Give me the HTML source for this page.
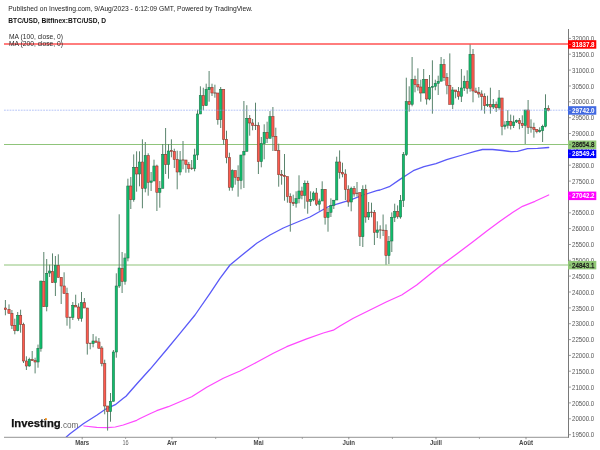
<!DOCTYPE html>
<html><head><meta charset="utf-8"><title>BTC/USD</title>
<style>html,body{margin:0;padding:0;background:#fff;}body{width:600px;height:450px;overflow:hidden;font-family:"Liberation Sans",sans-serif;}svg{display:block;will-change:transform;}text{font-family:"Liberation Sans",sans-serif;}</style>
</head><body>
<svg width="600" height="450" viewBox="0 0 600 450">
<rect x="0" y="0" width="600" height="450" fill="#ffffff"/>
<defs><clipPath id="plot"><rect x="4" y="29" width="564" height="408"/></clipPath></defs>
<g clip-path="url(#plot)">
<line x1="4" x2="568" y1="144.5" y2="144.5" stroke="#8fc47a" stroke-width="1.2"/>
<line x1="4" x2="568" y1="265" y2="265" stroke="#8fc47a" stroke-width="1.2"/>
<polyline points="66.3,437.0 70.0,433.7 83.3,423.7 96.7,415.2 104.7,409.7 115.3,404.7 123.3,398.3 126.0,396.3 136.7,384.0 150.0,369.3 166.7,349.5 180.0,333.3 195.0,315.0 210.0,293.3 220.0,278.3 230.0,265.0 240.0,256.7 256.7,243.3 270.0,235.0 283.3,228.0 290.4,225.0 300.0,221.0 310.0,217.0 323.3,209.5 328.7,206.5 339.3,203.3 350.0,200.2 363.3,195.0 376.7,190.7 380.0,190.0 389.3,186.7 400.0,179.4 406.7,175.0 413.3,170.7 424.0,166.7 436.0,163.7 446.7,159.7 450.0,158.7 462.5,155.0 475.0,151.3 482.5,149.5 492.5,149.5 502.5,150.5 511.3,151.7 517.5,151.3 527.5,148.7 537.5,148.3 548.7,147.5" fill="none" stroke="#5a5af8" stroke-width="1.3" stroke-linejoin="round" stroke-linecap="round"/>
<polyline points="84.0,426.0 96.7,427.4 107.3,427.7 115.3,427.0 123.3,425.0 136.7,420.3 140.0,418.5 150.0,413.8 156.7,410.7 168.3,406.7 191.7,396.7 206.7,387.3 223.3,378.3 240.0,371.0 256.7,362.3 273.3,353.3 286.7,346.7 306.7,338.8 323.3,333.0 333.3,330.2 340.0,326.0 353.3,318.3 370.0,310.0 386.7,301.7 401.7,295.0 416.7,285.0 430.0,274.3 441.7,265.0 456.7,254.0 473.3,241.5 487.5,230.5 500.0,221.3 512.5,212.5 522.5,206.3 535.0,201.3 548.7,195.0" fill="none" stroke="#ff48ff" stroke-width="1.25" stroke-linejoin="round" stroke-linecap="round"/>
<line x1="5.40" x2="5.40" y1="300.0" y2="315.3" stroke="#5a846d" stroke-width="1"/>
<rect x="4.25" y="308.0" width="2.3" height="1.7" fill="#ff5a4e" stroke="#7d3a30" stroke-width="0.55"/>
<line x1="9.00" x2="9.00" y1="304.4" y2="313.3" stroke="#5a846d" stroke-width="1"/>
<rect x="7.85" y="309.3" width="2.3" height="4.0" fill="#ff5a4e" stroke="#7d3a30" stroke-width="0.55"/>
<line x1="11.90" x2="11.90" y1="310.0" y2="329.0" stroke="#5a846d" stroke-width="1"/>
<rect x="10.75" y="313.3" width="2.3" height="12.4" fill="#ff5a4e" stroke="#7d3a30" stroke-width="0.55"/>
<line x1="14.80" x2="14.80" y1="318.7" y2="334.3" stroke="#5a846d" stroke-width="1"/>
<rect x="13.65" y="325.3" width="2.3" height="5.4" fill="#ff5a4e" stroke="#7d3a30" stroke-width="0.55"/>
<line x1="17.70" x2="17.70" y1="312.0" y2="331.3" stroke="#5a846d" stroke-width="1"/>
<rect x="16.55" y="315.3" width="2.3" height="15.4" fill="#0fbd6c" stroke="#1f6e47" stroke-width="0.55"/>
<line x1="20.60" x2="20.60" y1="309.7" y2="332.7" stroke="#5a846d" stroke-width="1"/>
<rect x="19.45" y="315.3" width="2.3" height="9.1" fill="#ff5a4e" stroke="#7d3a30" stroke-width="0.55"/>
<line x1="23.50" x2="23.50" y1="322.7" y2="363.0" stroke="#5a846d" stroke-width="1"/>
<rect x="22.35" y="324.4" width="2.3" height="36.6" fill="#ff5a4e" stroke="#7d3a30" stroke-width="0.55"/>
<line x1="26.40" x2="26.40" y1="356.3" y2="370.0" stroke="#5a846d" stroke-width="1"/>
<rect x="25.25" y="361.0" width="2.3" height="5.0" fill="#ff5a4e" stroke="#7d3a30" stroke-width="0.55"/>
<line x1="29.30" x2="29.30" y1="357.7" y2="366.7" stroke="#5a846d" stroke-width="1"/>
<rect x="28.15" y="359.4" width="2.3" height="6.6" fill="#0fbd6c" stroke="#1f6e47" stroke-width="0.55"/>
<line x1="32.20" x2="32.20" y1="351.0" y2="361.0" stroke="#5a846d" stroke-width="1"/>
<rect x="31.05" y="359.4" width="2.3" height="1.2" fill="#ff5a4e" stroke="#7d3a30" stroke-width="0.55"/>
<line x1="35.10" x2="35.10" y1="357.7" y2="373.4" stroke="#5a846d" stroke-width="1"/>
<rect x="33.95" y="360.6" width="2.3" height="1.4" fill="#ff5a4e" stroke="#7d3a30" stroke-width="0.55"/>
<line x1="38.00" x2="38.00" y1="344.6" y2="367.7" stroke="#5a846d" stroke-width="1"/>
<rect x="36.85" y="348.3" width="2.3" height="13.7" fill="#0fbd6c" stroke="#1f6e47" stroke-width="0.55"/>
<line x1="40.90" x2="40.90" y1="281.0" y2="351.7" stroke="#5a846d" stroke-width="1"/>
<rect x="39.75" y="281.0" width="2.3" height="67.5" fill="#0fbd6c" stroke="#1f6e47" stroke-width="0.55"/>
<line x1="43.80" x2="43.80" y1="252.0" y2="306.7" stroke="#5a846d" stroke-width="1"/>
<rect x="42.65" y="281.4" width="2.3" height="25.3" fill="#ff5a4e" stroke="#7d3a30" stroke-width="0.55"/>
<line x1="46.70" x2="46.70" y1="259.0" y2="311.3" stroke="#5a846d" stroke-width="1"/>
<rect x="45.55" y="273.3" width="2.3" height="33.4" fill="#0fbd6c" stroke="#1f6e47" stroke-width="0.55"/>
<line x1="49.60" x2="49.60" y1="264.6" y2="277.0" stroke="#5a846d" stroke-width="1"/>
<rect x="48.45" y="271.0" width="2.3" height="2.0" fill="#0fbd6c" stroke="#1f6e47" stroke-width="0.55"/>
<line x1="52.50" x2="52.50" y1="253.4" y2="282.7" stroke="#5a846d" stroke-width="1"/>
<rect x="51.35" y="271.3" width="2.3" height="11.4" fill="#ff5a4e" stroke="#7d3a30" stroke-width="0.55"/>
<line x1="55.40" x2="55.40" y1="256.0" y2="296.0" stroke="#5a846d" stroke-width="1"/>
<rect x="54.25" y="265.4" width="2.3" height="17.3" fill="#0fbd6c" stroke="#1f6e47" stroke-width="0.55"/>
<line x1="58.30" x2="58.30" y1="254.3" y2="277.4" stroke="#5a846d" stroke-width="1"/>
<rect x="57.15" y="265.4" width="2.3" height="12.0" fill="#ff5a4e" stroke="#7d3a30" stroke-width="0.55"/>
<line x1="61.20" x2="61.20" y1="277.4" y2="304.0" stroke="#5a846d" stroke-width="1"/>
<rect x="60.05" y="277.4" width="2.3" height="8.6" fill="#ff5a4e" stroke="#7d3a30" stroke-width="0.55"/>
<line x1="64.10" x2="64.10" y1="272.3" y2="293.5" stroke="#5a846d" stroke-width="1"/>
<rect x="62.95" y="286.0" width="2.3" height="7.5" fill="#ff5a4e" stroke="#7d3a30" stroke-width="0.55"/>
<line x1="67.00" x2="67.00" y1="287.7" y2="325.7" stroke="#5a846d" stroke-width="1"/>
<rect x="65.85" y="293.3" width="2.3" height="24.0" fill="#ff5a4e" stroke="#7d3a30" stroke-width="0.55"/>
<line x1="69.90" x2="69.90" y1="317.0" y2="328.7" stroke="#5a846d" stroke-width="1"/>
<line x1="68.50" x2="71.30" y1="317.3" y2="317.3" stroke="#7d3a30" stroke-width="0.9"/>
<line x1="72.80" x2="72.80" y1="302.0" y2="320.0" stroke="#5a846d" stroke-width="1"/>
<rect x="71.65" y="305.3" width="2.3" height="12.0" fill="#0fbd6c" stroke="#1f6e47" stroke-width="0.55"/>
<line x1="75.70" x2="75.70" y1="294.7" y2="307.0" stroke="#5a846d" stroke-width="1"/>
<rect x="74.55" y="305.3" width="2.3" height="1.7" fill="#ff5a4e" stroke="#7d3a30" stroke-width="0.55"/>
<line x1="78.60" x2="78.60" y1="303.3" y2="320.7" stroke="#5a846d" stroke-width="1"/>
<rect x="77.45" y="307.0" width="2.3" height="11.3" fill="#ff5a4e" stroke="#7d3a30" stroke-width="0.55"/>
<line x1="81.50" x2="81.50" y1="292.0" y2="321.7" stroke="#5a846d" stroke-width="1"/>
<rect x="80.35" y="302.7" width="2.3" height="15.7" fill="#0fbd6c" stroke="#1f6e47" stroke-width="0.55"/>
<line x1="84.40" x2="84.40" y1="298.0" y2="308.0" stroke="#5a846d" stroke-width="1"/>
<rect x="83.25" y="302.7" width="2.3" height="5.3" fill="#ff5a4e" stroke="#7d3a30" stroke-width="0.55"/>
<line x1="87.30" x2="87.30" y1="308.0" y2="354.6" stroke="#5a846d" stroke-width="1"/>
<rect x="86.15" y="308.0" width="2.3" height="35.3" fill="#ff5a4e" stroke="#7d3a30" stroke-width="0.55"/>
<line x1="90.20" x2="90.20" y1="343.3" y2="349.3" stroke="#5a846d" stroke-width="1"/>
<line x1="88.80" x2="91.60" y1="343.3" y2="343.3" stroke="#7d3a30" stroke-width="0.9"/>
<line x1="93.10" x2="93.10" y1="334.0" y2="347.3" stroke="#5a846d" stroke-width="1"/>
<rect x="91.95" y="341.0" width="2.3" height="2.6" fill="#0fbd6c" stroke="#1f6e47" stroke-width="0.55"/>
<line x1="96.00" x2="96.00" y1="336.4" y2="342.3" stroke="#5a846d" stroke-width="1"/>
<rect x="94.85" y="341.0" width="2.3" height="1.3" fill="#ff5a4e" stroke="#7d3a30" stroke-width="0.55"/>
<line x1="98.90" x2="98.90" y1="338.0" y2="348.3" stroke="#5a846d" stroke-width="1"/>
<rect x="97.75" y="342.0" width="2.3" height="6.3" fill="#ff5a4e" stroke="#7d3a30" stroke-width="0.55"/>
<line x1="101.80" x2="101.80" y1="346.0" y2="366.3" stroke="#5a846d" stroke-width="1"/>
<rect x="100.65" y="348.0" width="2.3" height="15.4" fill="#ff5a4e" stroke="#7d3a30" stroke-width="0.55"/>
<line x1="104.70" x2="104.70" y1="359.7" y2="414.3" stroke="#5a846d" stroke-width="1"/>
<rect x="103.55" y="363.7" width="2.3" height="42.3" fill="#ff5a4e" stroke="#7d3a30" stroke-width="0.55"/>
<line x1="107.60" x2="107.60" y1="406.0" y2="430.6" stroke="#5a846d" stroke-width="1"/>
<rect x="106.45" y="406.0" width="2.3" height="5.7" fill="#ff5a4e" stroke="#7d3a30" stroke-width="0.55"/>
<line x1="110.50" x2="110.50" y1="393.0" y2="421.7" stroke="#5a846d" stroke-width="1"/>
<rect x="109.35" y="401.3" width="2.3" height="10.4" fill="#0fbd6c" stroke="#1f6e47" stroke-width="0.55"/>
<line x1="113.40" x2="113.40" y1="350.0" y2="401.3" stroke="#5a846d" stroke-width="1"/>
<rect x="112.25" y="352.0" width="2.3" height="49.3" fill="#0fbd6c" stroke="#1f6e47" stroke-width="0.55"/>
<line x1="116.30" x2="116.30" y1="273.3" y2="357.7" stroke="#5a846d" stroke-width="1"/>
<rect x="115.15" y="286.0" width="2.3" height="66.0" fill="#0fbd6c" stroke="#1f6e47" stroke-width="0.55"/>
<line x1="119.20" x2="119.20" y1="214.3" y2="288.0" stroke="#5a846d" stroke-width="1"/>
<rect x="118.05" y="268.0" width="2.3" height="18.0" fill="#0fbd6c" stroke="#1f6e47" stroke-width="0.55"/>
<line x1="122.10" x2="122.10" y1="252.0" y2="293.0" stroke="#5a846d" stroke-width="1"/>
<rect x="120.95" y="268.3" width="2.3" height="13.0" fill="#ff5a4e" stroke="#7d3a30" stroke-width="0.55"/>
<line x1="125.00" x2="125.00" y1="253.3" y2="284.7" stroke="#5a846d" stroke-width="1"/>
<rect x="123.85" y="258.0" width="2.3" height="23.3" fill="#0fbd6c" stroke="#1f6e47" stroke-width="0.55"/>
<line x1="127.90" x2="127.90" y1="178.7" y2="261.3" stroke="#5a846d" stroke-width="1"/>
<rect x="126.75" y="186.0" width="2.3" height="72.0" fill="#0fbd6c" stroke="#1f6e47" stroke-width="0.55"/>
<line x1="130.80" x2="130.80" y1="177.0" y2="209.0" stroke="#5a846d" stroke-width="1"/>
<rect x="129.65" y="186.0" width="2.3" height="13.7" fill="#ff5a4e" stroke="#7d3a30" stroke-width="0.55"/>
<line x1="133.70" x2="133.70" y1="154.4" y2="201.7" stroke="#5a846d" stroke-width="1"/>
<rect x="132.55" y="167.3" width="2.3" height="32.4" fill="#0fbd6c" stroke="#1f6e47" stroke-width="0.55"/>
<line x1="136.60" x2="136.60" y1="151.3" y2="191.7" stroke="#5a846d" stroke-width="1"/>
<rect x="135.45" y="167.3" width="2.3" height="6.7" fill="#ff5a4e" stroke="#7d3a30" stroke-width="0.55"/>
<line x1="139.50" x2="139.50" y1="151.3" y2="186.3" stroke="#5a846d" stroke-width="1"/>
<rect x="138.35" y="162.0" width="2.3" height="12.0" fill="#0fbd6c" stroke="#1f6e47" stroke-width="0.55"/>
<line x1="142.40" x2="142.40" y1="139.3" y2="208.3" stroke="#5a846d" stroke-width="1"/>
<rect x="141.25" y="162.0" width="2.3" height="26.3" fill="#ff5a4e" stroke="#7d3a30" stroke-width="0.55"/>
<line x1="145.30" x2="145.30" y1="142.0" y2="192.3" stroke="#5a846d" stroke-width="1"/>
<rect x="144.15" y="155.7" width="2.3" height="32.6" fill="#0fbd6c" stroke="#1f6e47" stroke-width="0.55"/>
<line x1="148.20" x2="148.20" y1="153.3" y2="195.7" stroke="#5a846d" stroke-width="1"/>
<rect x="147.05" y="155.7" width="2.3" height="26.6" fill="#ff5a4e" stroke="#7d3a30" stroke-width="0.55"/>
<line x1="151.10" x2="151.10" y1="172.0" y2="191.0" stroke="#5a846d" stroke-width="1"/>
<rect x="149.95" y="181.0" width="2.3" height="1.3" fill="#0fbd6c" stroke="#1f6e47" stroke-width="0.55"/>
<line x1="154.00" x2="154.00" y1="159.7" y2="181.0" stroke="#5a846d" stroke-width="1"/>
<rect x="152.85" y="166.0" width="2.3" height="15.0" fill="#0fbd6c" stroke="#1f6e47" stroke-width="0.55"/>
<line x1="156.90" x2="156.90" y1="164.7" y2="211.0" stroke="#5a846d" stroke-width="1"/>
<rect x="155.75" y="166.0" width="2.3" height="26.3" fill="#ff5a4e" stroke="#7d3a30" stroke-width="0.55"/>
<line x1="159.80" x2="159.80" y1="181.0" y2="207.7" stroke="#5a846d" stroke-width="1"/>
<rect x="158.65" y="188.3" width="2.3" height="4.0" fill="#0fbd6c" stroke="#1f6e47" stroke-width="0.55"/>
<line x1="162.70" x2="162.70" y1="144.0" y2="188.3" stroke="#5a846d" stroke-width="1"/>
<rect x="161.55" y="154.3" width="2.3" height="34.0" fill="#0fbd6c" stroke="#1f6e47" stroke-width="0.55"/>
<line x1="165.60" x2="165.60" y1="128.0" y2="174.0" stroke="#5a846d" stroke-width="1"/>
<rect x="164.45" y="154.3" width="2.3" height="10.4" fill="#ff5a4e" stroke="#7d3a30" stroke-width="0.55"/>
<line x1="168.50" x2="168.50" y1="144.0" y2="178.7" stroke="#5a846d" stroke-width="1"/>
<rect x="167.35" y="151.0" width="2.3" height="13.7" fill="#0fbd6c" stroke="#1f6e47" stroke-width="0.55"/>
<line x1="171.40" x2="171.40" y1="139.3" y2="157.3" stroke="#5a846d" stroke-width="1"/>
<rect x="170.25" y="150.7" width="2.3" height="0.9" fill="#ff5a4e" stroke="#7d3a30" stroke-width="0.55"/>
<line x1="174.30" x2="174.30" y1="148.7" y2="168.0" stroke="#5a846d" stroke-width="1"/>
<rect x="173.15" y="151.3" width="2.3" height="8.2" fill="#ff5a4e" stroke="#7d3a30" stroke-width="0.55"/>
<line x1="177.20" x2="177.20" y1="150.7" y2="189.3" stroke="#5a846d" stroke-width="1"/>
<rect x="176.05" y="159.5" width="2.3" height="12.5" fill="#ff5a4e" stroke="#7d3a30" stroke-width="0.55"/>
<line x1="180.10" x2="180.10" y1="151.0" y2="175.3" stroke="#5a846d" stroke-width="1"/>
<rect x="178.95" y="160.0" width="2.3" height="12.0" fill="#0fbd6c" stroke="#1f6e47" stroke-width="0.55"/>
<line x1="183.00" x2="183.00" y1="141.0" y2="169.3" stroke="#5a846d" stroke-width="1"/>
<line x1="181.60" x2="184.40" y1="160.0" y2="160.0" stroke="#7d3a30" stroke-width="0.9"/>
<line x1="185.90" x2="185.90" y1="160.0" y2="172.7" stroke="#5a846d" stroke-width="1"/>
<rect x="184.75" y="160.0" width="2.3" height="4.7" fill="#ff5a4e" stroke="#7d3a30" stroke-width="0.55"/>
<line x1="188.80" x2="188.80" y1="162.0" y2="172.7" stroke="#5a846d" stroke-width="1"/>
<rect x="187.65" y="164.7" width="2.3" height="4.0" fill="#ff5a4e" stroke="#7d3a30" stroke-width="0.55"/>
<line x1="191.70" x2="191.70" y1="160.0" y2="170.0" stroke="#5a846d" stroke-width="1"/>
<line x1="190.30" x2="193.10" y1="168.3" y2="168.3" stroke="#7d3a30" stroke-width="0.9"/>
<line x1="194.60" x2="194.60" y1="148.7" y2="171.3" stroke="#5a846d" stroke-width="1"/>
<rect x="193.45" y="155.0" width="2.3" height="13.7" fill="#0fbd6c" stroke="#1f6e47" stroke-width="0.55"/>
<line x1="197.50" x2="197.50" y1="109.7" y2="160.0" stroke="#5a846d" stroke-width="1"/>
<rect x="196.35" y="114.0" width="2.3" height="41.0" fill="#0fbd6c" stroke="#1f6e47" stroke-width="0.55"/>
<line x1="200.40" x2="200.40" y1="86.3" y2="114.0" stroke="#5a846d" stroke-width="1"/>
<rect x="199.25" y="95.7" width="2.3" height="18.3" fill="#0fbd6c" stroke="#1f6e47" stroke-width="0.55"/>
<line x1="203.30" x2="203.30" y1="87.7" y2="110.3" stroke="#5a846d" stroke-width="1"/>
<rect x="202.15" y="95.7" width="2.3" height="10.0" fill="#ff5a4e" stroke="#7d3a30" stroke-width="0.55"/>
<line x1="206.20" x2="206.20" y1="83.7" y2="105.7" stroke="#5a846d" stroke-width="1"/>
<rect x="205.05" y="89.4" width="2.3" height="16.3" fill="#0fbd6c" stroke="#1f6e47" stroke-width="0.55"/>
<line x1="209.10" x2="209.10" y1="71.0" y2="101.7" stroke="#5a846d" stroke-width="1"/>
<rect x="207.95" y="87.4" width="2.3" height="2.3" fill="#0fbd6c" stroke="#1f6e47" stroke-width="0.55"/>
<line x1="212.00" x2="212.00" y1="83.7" y2="96.0" stroke="#5a846d" stroke-width="1"/>
<rect x="210.85" y="87.4" width="2.3" height="5.6" fill="#ff5a4e" stroke="#7d3a30" stroke-width="0.55"/>
<line x1="214.90" x2="214.90" y1="84.7" y2="97.7" stroke="#5a846d" stroke-width="1"/>
<line x1="213.50" x2="216.30" y1="93.0" y2="93.0" stroke="#7d3a30" stroke-width="0.9"/>
<line x1="217.80" x2="217.80" y1="93.0" y2="124.7" stroke="#5a846d" stroke-width="1"/>
<rect x="216.65" y="93.0" width="2.3" height="26.7" fill="#ff5a4e" stroke="#7d3a30" stroke-width="0.55"/>
<line x1="220.70" x2="220.70" y1="87.0" y2="128.0" stroke="#5a846d" stroke-width="1"/>
<rect x="219.55" y="89.4" width="2.3" height="30.3" fill="#0fbd6c" stroke="#1f6e47" stroke-width="0.55"/>
<line x1="223.60" x2="223.60" y1="89.4" y2="144.7" stroke="#5a846d" stroke-width="1"/>
<rect x="222.45" y="89.4" width="2.3" height="49.9" fill="#ff5a4e" stroke="#7d3a30" stroke-width="0.55"/>
<line x1="226.50" x2="226.50" y1="130.7" y2="163.3" stroke="#5a846d" stroke-width="1"/>
<rect x="225.35" y="139.3" width="2.3" height="18.3" fill="#ff5a4e" stroke="#7d3a30" stroke-width="0.55"/>
<line x1="229.40" x2="229.40" y1="152.7" y2="190.7" stroke="#5a846d" stroke-width="1"/>
<rect x="228.25" y="157.6" width="2.3" height="29.7" fill="#ff5a4e" stroke="#7d3a30" stroke-width="0.55"/>
<line x1="232.30" x2="232.30" y1="169.3" y2="190.7" stroke="#5a846d" stroke-width="1"/>
<rect x="231.15" y="170.7" width="2.3" height="16.6" fill="#0fbd6c" stroke="#1f6e47" stroke-width="0.55"/>
<line x1="235.20" x2="235.20" y1="170.7" y2="184.7" stroke="#5a846d" stroke-width="1"/>
<rect x="234.05" y="170.7" width="2.3" height="6.6" fill="#ff5a4e" stroke="#7d3a30" stroke-width="0.55"/>
<line x1="238.10" x2="238.10" y1="165.3" y2="196.7" stroke="#5a846d" stroke-width="1"/>
<rect x="236.95" y="177.3" width="2.3" height="3.1" fill="#ff5a4e" stroke="#7d3a30" stroke-width="0.55"/>
<line x1="241.00" x2="241.00" y1="155.0" y2="189.3" stroke="#5a846d" stroke-width="1"/>
<rect x="239.85" y="155.0" width="2.3" height="25.5" fill="#0fbd6c" stroke="#1f6e47" stroke-width="0.55"/>
<line x1="243.90" x2="243.90" y1="101.0" y2="188.0" stroke="#5a846d" stroke-width="1"/>
<rect x="242.75" y="151.3" width="2.3" height="3.7" fill="#0fbd6c" stroke="#1f6e47" stroke-width="0.55"/>
<line x1="246.80" x2="246.80" y1="105.2" y2="151.3" stroke="#5a846d" stroke-width="1"/>
<rect x="245.65" y="118.3" width="2.3" height="33.0" fill="#0fbd6c" stroke="#1f6e47" stroke-width="0.55"/>
<line x1="249.70" x2="249.70" y1="115.0" y2="135.7" stroke="#5a846d" stroke-width="1"/>
<rect x="248.55" y="118.3" width="2.3" height="4.7" fill="#ff5a4e" stroke="#7d3a30" stroke-width="0.55"/>
<line x1="252.60" x2="252.60" y1="119.0" y2="130.3" stroke="#5a846d" stroke-width="1"/>
<rect x="251.45" y="123.0" width="2.3" height="2.4" fill="#ff5a4e" stroke="#7d3a30" stroke-width="0.55"/>
<line x1="255.50" x2="255.50" y1="102.7" y2="130.0" stroke="#5a846d" stroke-width="1"/>
<line x1="254.10" x2="256.90" y1="125.4" y2="125.4" stroke="#7d3a30" stroke-width="0.9"/>
<line x1="258.40" x2="258.40" y1="122.3" y2="174.0" stroke="#5a846d" stroke-width="1"/>
<rect x="257.25" y="125.7" width="2.3" height="36.0" fill="#ff5a4e" stroke="#7d3a30" stroke-width="0.55"/>
<line x1="261.30" x2="261.30" y1="137.0" y2="167.3" stroke="#5a846d" stroke-width="1"/>
<rect x="260.15" y="143.7" width="2.3" height="18.0" fill="#0fbd6c" stroke="#1f6e47" stroke-width="0.55"/>
<line x1="264.20" x2="264.20" y1="124.3" y2="159.3" stroke="#5a846d" stroke-width="1"/>
<rect x="263.05" y="132.3" width="2.3" height="11.4" fill="#0fbd6c" stroke="#1f6e47" stroke-width="0.55"/>
<line x1="267.10" x2="267.10" y1="121.7" y2="143.0" stroke="#5a846d" stroke-width="1"/>
<rect x="265.95" y="132.3" width="2.3" height="6.0" fill="#ff5a4e" stroke="#7d3a30" stroke-width="0.55"/>
<line x1="270.00" x2="270.00" y1="111.0" y2="138.3" stroke="#5a846d" stroke-width="1"/>
<rect x="268.85" y="116.6" width="2.3" height="21.7" fill="#0fbd6c" stroke="#1f6e47" stroke-width="0.55"/>
<line x1="272.90" x2="272.90" y1="107.0" y2="151.0" stroke="#5a846d" stroke-width="1"/>
<rect x="271.75" y="116.6" width="2.3" height="19.7" fill="#ff5a4e" stroke="#7d3a30" stroke-width="0.55"/>
<line x1="275.80" x2="275.80" y1="127.7" y2="150.7" stroke="#5a846d" stroke-width="1"/>
<rect x="274.65" y="136.3" width="2.3" height="14.4" fill="#ff5a4e" stroke="#7d3a30" stroke-width="0.55"/>
<line x1="278.70" x2="278.70" y1="143.7" y2="186.7" stroke="#5a846d" stroke-width="1"/>
<rect x="277.55" y="150.7" width="2.3" height="24.0" fill="#ff5a4e" stroke="#7d3a30" stroke-width="0.55"/>
<line x1="281.60" x2="281.60" y1="170.0" y2="184.7" stroke="#5a846d" stroke-width="1"/>
<rect x="280.45" y="174.4" width="2.3" height="1.2" fill="#ff5a4e" stroke="#7d3a30" stroke-width="0.55"/>
<line x1="284.50" x2="284.50" y1="154.0" y2="200.7" stroke="#5a846d" stroke-width="1"/>
<rect x="283.35" y="175.6" width="2.3" height="1.1" fill="#ff5a4e" stroke="#7d3a30" stroke-width="0.55"/>
<line x1="287.40" x2="287.40" y1="176.7" y2="202.7" stroke="#5a846d" stroke-width="1"/>
<rect x="286.25" y="176.7" width="2.3" height="20.0" fill="#ff5a4e" stroke="#7d3a30" stroke-width="0.55"/>
<line x1="290.30" x2="290.30" y1="193.3" y2="231.7" stroke="#5a846d" stroke-width="1"/>
<rect x="289.15" y="196.5" width="2.3" height="6.0" fill="#ff5a4e" stroke="#7d3a30" stroke-width="0.55"/>
<line x1="293.20" x2="293.20" y1="194.7" y2="206.0" stroke="#5a846d" stroke-width="1"/>
<rect x="292.05" y="202.4" width="2.3" height="1.2" fill="#ff5a4e" stroke="#7d3a30" stroke-width="0.55"/>
<line x1="296.10" x2="296.10" y1="191.3" y2="207.6" stroke="#5a846d" stroke-width="1"/>
<rect x="294.95" y="198.7" width="2.3" height="4.6" fill="#0fbd6c" stroke="#1f6e47" stroke-width="0.55"/>
<line x1="299.00" x2="299.00" y1="175.3" y2="203.3" stroke="#5a846d" stroke-width="1"/>
<rect x="297.85" y="191.0" width="2.3" height="7.7" fill="#0fbd6c" stroke="#1f6e47" stroke-width="0.55"/>
<line x1="301.90" x2="301.90" y1="186.7" y2="199.3" stroke="#5a846d" stroke-width="1"/>
<rect x="300.75" y="191.0" width="2.3" height="4.3" fill="#ff5a4e" stroke="#7d3a30" stroke-width="0.55"/>
<line x1="304.80" x2="304.80" y1="180.4" y2="208.7" stroke="#5a846d" stroke-width="1"/>
<rect x="303.65" y="183.3" width="2.3" height="12.0" fill="#0fbd6c" stroke="#1f6e47" stroke-width="0.55"/>
<line x1="307.70" x2="307.70" y1="180.7" y2="213.7" stroke="#5a846d" stroke-width="1"/>
<rect x="306.55" y="183.3" width="2.3" height="17.9" fill="#ff5a4e" stroke="#7d3a30" stroke-width="0.55"/>
<line x1="310.60" x2="310.60" y1="191.3" y2="206.0" stroke="#5a846d" stroke-width="1"/>
<rect x="309.45" y="199.7" width="2.3" height="1.6" fill="#0fbd6c" stroke="#1f6e47" stroke-width="0.55"/>
<line x1="313.50" x2="313.50" y1="191.3" y2="201.3" stroke="#5a846d" stroke-width="1"/>
<rect x="312.35" y="193.0" width="2.3" height="7.0" fill="#0fbd6c" stroke="#1f6e47" stroke-width="0.55"/>
<line x1="316.40" x2="316.40" y1="188.0" y2="206.0" stroke="#5a846d" stroke-width="1"/>
<rect x="315.25" y="193.0" width="2.3" height="11.2" fill="#ff5a4e" stroke="#7d3a30" stroke-width="0.55"/>
<line x1="319.30" x2="319.30" y1="198.7" y2="210.7" stroke="#5a846d" stroke-width="1"/>
<rect x="318.15" y="201.0" width="2.3" height="3.2" fill="#0fbd6c" stroke="#1f6e47" stroke-width="0.55"/>
<line x1="322.20" x2="322.20" y1="181.3" y2="201.0" stroke="#5a846d" stroke-width="1"/>
<rect x="321.05" y="189.3" width="2.3" height="11.7" fill="#0fbd6c" stroke="#1f6e47" stroke-width="0.55"/>
<line x1="325.10" x2="325.10" y1="189.3" y2="224.6" stroke="#5a846d" stroke-width="1"/>
<rect x="323.95" y="189.3" width="2.3" height="28.2" fill="#ff5a4e" stroke="#7d3a30" stroke-width="0.55"/>
<line x1="328.00" x2="328.00" y1="208.0" y2="231.7" stroke="#5a846d" stroke-width="1"/>
<rect x="326.85" y="212.3" width="2.3" height="5.2" fill="#0fbd6c" stroke="#1f6e47" stroke-width="0.55"/>
<line x1="330.90" x2="330.90" y1="198.3" y2="217.0" stroke="#5a846d" stroke-width="1"/>
<rect x="329.75" y="205.4" width="2.3" height="6.9" fill="#0fbd6c" stroke="#1f6e47" stroke-width="0.55"/>
<line x1="333.80" x2="333.80" y1="200.0" y2="209.0" stroke="#5a846d" stroke-width="1"/>
<rect x="332.65" y="200.2" width="2.3" height="5.2" fill="#0fbd6c" stroke="#1f6e47" stroke-width="0.55"/>
<line x1="336.70" x2="336.70" y1="156.7" y2="200.0" stroke="#5a846d" stroke-width="1"/>
<rect x="335.55" y="162.0" width="2.3" height="38.0" fill="#0fbd6c" stroke="#1f6e47" stroke-width="0.55"/>
<line x1="339.60" x2="339.60" y1="150.4" y2="178.7" stroke="#5a846d" stroke-width="1"/>
<rect x="338.45" y="162.0" width="2.3" height="10.3" fill="#ff5a4e" stroke="#7d3a30" stroke-width="0.55"/>
<line x1="342.50" x2="342.50" y1="162.7" y2="177.3" stroke="#5a846d" stroke-width="1"/>
<rect x="341.35" y="172.3" width="2.3" height="1.7" fill="#ff5a4e" stroke="#7d3a30" stroke-width="0.55"/>
<line x1="345.40" x2="345.40" y1="169.3" y2="200.0" stroke="#5a846d" stroke-width="1"/>
<rect x="344.25" y="174.0" width="2.3" height="15.6" fill="#ff5a4e" stroke="#7d3a30" stroke-width="0.55"/>
<line x1="348.30" x2="348.30" y1="185.3" y2="206.7" stroke="#5a846d" stroke-width="1"/>
<rect x="347.15" y="189.6" width="2.3" height="12.4" fill="#ff5a4e" stroke="#7d3a30" stroke-width="0.55"/>
<line x1="351.20" x2="351.20" y1="186.7" y2="211.3" stroke="#5a846d" stroke-width="1"/>
<rect x="350.05" y="188.4" width="2.3" height="13.6" fill="#0fbd6c" stroke="#1f6e47" stroke-width="0.55"/>
<line x1="354.10" x2="354.10" y1="186.0" y2="196.7" stroke="#5a846d" stroke-width="1"/>
<rect x="352.95" y="188.4" width="2.3" height="5.6" fill="#ff5a4e" stroke="#7d3a30" stroke-width="0.55"/>
<line x1="357.00" x2="357.00" y1="182.0" y2="196.7" stroke="#5a846d" stroke-width="1"/>
<line x1="355.60" x2="358.40" y1="193.3" y2="193.3" stroke="#7d3a30" stroke-width="0.9"/>
<line x1="359.90" x2="359.90" y1="192.7" y2="246.0" stroke="#5a846d" stroke-width="1"/>
<rect x="358.75" y="192.7" width="2.3" height="44.0" fill="#ff5a4e" stroke="#7d3a30" stroke-width="0.55"/>
<line x1="362.80" x2="362.80" y1="185.3" y2="247.0" stroke="#5a846d" stroke-width="1"/>
<rect x="361.65" y="189.6" width="2.3" height="47.1" fill="#0fbd6c" stroke="#1f6e47" stroke-width="0.55"/>
<line x1="365.70" x2="365.70" y1="184.7" y2="222.7" stroke="#5a846d" stroke-width="1"/>
<rect x="364.55" y="189.6" width="2.3" height="27.4" fill="#ff5a4e" stroke="#7d3a30" stroke-width="0.55"/>
<line x1="368.60" x2="368.60" y1="202.0" y2="220.0" stroke="#5a846d" stroke-width="1"/>
<rect x="367.45" y="212.3" width="2.3" height="4.7" fill="#0fbd6c" stroke="#1f6e47" stroke-width="0.55"/>
<line x1="371.50" x2="371.50" y1="202.7" y2="217.3" stroke="#5a846d" stroke-width="1"/>
<line x1="370.10" x2="372.90" y1="212.3" y2="212.3" stroke="#7d3a30" stroke-width="0.9"/>
<line x1="374.40" x2="374.40" y1="210.0" y2="245.0" stroke="#5a846d" stroke-width="1"/>
<rect x="373.25" y="212.3" width="2.3" height="20.1" fill="#ff5a4e" stroke="#7d3a30" stroke-width="0.55"/>
<line x1="377.30" x2="377.30" y1="221.3" y2="238.0" stroke="#5a846d" stroke-width="1"/>
<rect x="376.15" y="230.0" width="2.3" height="2.4" fill="#0fbd6c" stroke="#1f6e47" stroke-width="0.55"/>
<line x1="380.20" x2="380.20" y1="225.3" y2="238.7" stroke="#5a846d" stroke-width="1"/>
<line x1="378.80" x2="381.60" y1="230.0" y2="230.0" stroke="#7d3a30" stroke-width="0.9"/>
<line x1="383.10" x2="383.10" y1="214.5" y2="236.0" stroke="#5a846d" stroke-width="1"/>
<line x1="381.70" x2="384.50" y1="230.3" y2="230.3" stroke="#7d3a30" stroke-width="0.9"/>
<line x1="386.00" x2="386.00" y1="224.4" y2="264.7" stroke="#5a846d" stroke-width="1"/>
<rect x="384.85" y="230.3" width="2.3" height="25.3" fill="#ff5a4e" stroke="#7d3a30" stroke-width="0.55"/>
<line x1="388.90" x2="388.90" y1="236.0" y2="264.0" stroke="#5a846d" stroke-width="1"/>
<rect x="387.75" y="241.3" width="2.3" height="14.3" fill="#0fbd6c" stroke="#1f6e47" stroke-width="0.55"/>
<line x1="391.80" x2="391.80" y1="212.4" y2="252.0" stroke="#5a846d" stroke-width="1"/>
<rect x="390.65" y="217.3" width="2.3" height="23.7" fill="#0fbd6c" stroke="#1f6e47" stroke-width="0.55"/>
<line x1="394.70" x2="394.70" y1="203.7" y2="222.0" stroke="#5a846d" stroke-width="1"/>
<rect x="393.55" y="211.5" width="2.3" height="5.8" fill="#0fbd6c" stroke="#1f6e47" stroke-width="0.55"/>
<line x1="397.60" x2="397.60" y1="205.4" y2="218.7" stroke="#5a846d" stroke-width="1"/>
<rect x="396.45" y="211.5" width="2.3" height="5.2" fill="#ff5a4e" stroke="#7d3a30" stroke-width="0.55"/>
<line x1="400.50" x2="400.50" y1="195.0" y2="218.7" stroke="#5a846d" stroke-width="1"/>
<rect x="399.35" y="200.7" width="2.3" height="16.3" fill="#0fbd6c" stroke="#1f6e47" stroke-width="0.55"/>
<line x1="403.40" x2="403.40" y1="152.0" y2="207.0" stroke="#5a846d" stroke-width="1"/>
<rect x="402.25" y="154.7" width="2.3" height="46.0" fill="#0fbd6c" stroke="#1f6e47" stroke-width="0.55"/>
<line x1="406.30" x2="406.30" y1="77.7" y2="156.0" stroke="#5a846d" stroke-width="1"/>
<rect x="405.15" y="101.7" width="2.3" height="53.0" fill="#0fbd6c" stroke="#1f6e47" stroke-width="0.55"/>
<line x1="409.20" x2="409.20" y1="86.3" y2="111.7" stroke="#5a846d" stroke-width="1"/>
<rect x="408.05" y="101.7" width="2.3" height="2.6" fill="#ff5a4e" stroke="#7d3a30" stroke-width="0.55"/>
<line x1="412.10" x2="412.10" y1="57.0" y2="106.3" stroke="#5a846d" stroke-width="1"/>
<rect x="410.95" y="79.4" width="2.3" height="24.9" fill="#0fbd6c" stroke="#1f6e47" stroke-width="0.55"/>
<line x1="415.00" x2="415.00" y1="75.7" y2="92.3" stroke="#5a846d" stroke-width="1"/>
<rect x="413.85" y="79.4" width="2.3" height="5.2" fill="#ff5a4e" stroke="#7d3a30" stroke-width="0.55"/>
<line x1="417.90" x2="417.90" y1="68.3" y2="90.7" stroke="#5a846d" stroke-width="1"/>
<rect x="416.75" y="84.6" width="2.3" height="2.4" fill="#ff5a4e" stroke="#7d3a30" stroke-width="0.55"/>
<line x1="420.80" x2="420.80" y1="79.7" y2="101.7" stroke="#5a846d" stroke-width="1"/>
<rect x="419.65" y="87.0" width="2.3" height="6.0" fill="#ff5a4e" stroke="#7d3a30" stroke-width="0.55"/>
<line x1="423.70" x2="423.70" y1="69.0" y2="93.0" stroke="#5a846d" stroke-width="1"/>
<rect x="422.55" y="79.4" width="2.3" height="13.6" fill="#0fbd6c" stroke="#1f6e47" stroke-width="0.55"/>
<line x1="426.60" x2="426.60" y1="79.4" y2="104.6" stroke="#5a846d" stroke-width="1"/>
<rect x="425.45" y="79.4" width="2.3" height="19.6" fill="#ff5a4e" stroke="#7d3a30" stroke-width="0.55"/>
<line x1="429.50" x2="429.50" y1="75.0" y2="100.3" stroke="#5a846d" stroke-width="1"/>
<rect x="428.35" y="87.3" width="2.3" height="11.7" fill="#0fbd6c" stroke="#1f6e47" stroke-width="0.55"/>
<line x1="432.40" x2="432.40" y1="60.3" y2="113.7" stroke="#5a846d" stroke-width="1"/>
<rect x="431.25" y="86.3" width="2.3" height="1.0" fill="#0fbd6c" stroke="#1f6e47" stroke-width="0.55"/>
<line x1="435.30" x2="435.30" y1="79.7" y2="90.3" stroke="#5a846d" stroke-width="1"/>
<rect x="434.15" y="83.3" width="2.3" height="3.0" fill="#0fbd6c" stroke="#1f6e47" stroke-width="0.55"/>
<line x1="438.20" x2="438.20" y1="75.7" y2="95.0" stroke="#5a846d" stroke-width="1"/>
<rect x="437.05" y="81.4" width="2.3" height="1.9" fill="#0fbd6c" stroke="#1f6e47" stroke-width="0.55"/>
<line x1="441.10" x2="441.10" y1="57.0" y2="81.2" stroke="#5a846d" stroke-width="1"/>
<rect x="439.95" y="64.4" width="2.3" height="16.8" fill="#0fbd6c" stroke="#1f6e47" stroke-width="0.55"/>
<line x1="444.00" x2="444.00" y1="59.0" y2="81.0" stroke="#5a846d" stroke-width="1"/>
<rect x="442.85" y="64.4" width="2.3" height="13.0" fill="#ff5a4e" stroke="#7d3a30" stroke-width="0.55"/>
<line x1="446.90" x2="446.90" y1="73.0" y2="94.3" stroke="#5a846d" stroke-width="1"/>
<rect x="445.75" y="77.4" width="2.3" height="8.0" fill="#ff5a4e" stroke="#7d3a30" stroke-width="0.55"/>
<line x1="449.80" x2="449.80" y1="53.4" y2="104.3" stroke="#5a846d" stroke-width="1"/>
<rect x="448.65" y="85.4" width="2.3" height="18.9" fill="#ff5a4e" stroke="#7d3a30" stroke-width="0.55"/>
<line x1="452.70" x2="452.70" y1="87.0" y2="109.0" stroke="#5a846d" stroke-width="1"/>
<rect x="451.55" y="90.0" width="2.3" height="14.3" fill="#0fbd6c" stroke="#1f6e47" stroke-width="0.55"/>
<line x1="455.60" x2="455.60" y1="90.0" y2="98.3" stroke="#5a846d" stroke-width="1"/>
<rect x="454.45" y="90.0" width="2.3" height="1.7" fill="#ff5a4e" stroke="#7d3a30" stroke-width="0.55"/>
<line x1="458.50" x2="458.50" y1="87.0" y2="99.7" stroke="#5a846d" stroke-width="1"/>
<rect x="457.35" y="91.7" width="2.3" height="4.6" fill="#ff5a4e" stroke="#7d3a30" stroke-width="0.55"/>
<line x1="461.40" x2="461.40" y1="69.0" y2="102.0" stroke="#5a846d" stroke-width="1"/>
<rect x="460.25" y="88.0" width="2.3" height="8.3" fill="#0fbd6c" stroke="#1f6e47" stroke-width="0.55"/>
<line x1="464.30" x2="464.30" y1="75.7" y2="91.0" stroke="#5a846d" stroke-width="1"/>
<rect x="463.15" y="81.3" width="2.3" height="6.7" fill="#0fbd6c" stroke="#1f6e47" stroke-width="0.55"/>
<line x1="467.20" x2="467.20" y1="70.3" y2="93.7" stroke="#5a846d" stroke-width="1"/>
<rect x="466.05" y="81.3" width="2.3" height="7.0" fill="#ff5a4e" stroke="#7d3a30" stroke-width="0.55"/>
<line x1="470.10" x2="470.10" y1="44.0" y2="91.7" stroke="#5a846d" stroke-width="1"/>
<rect x="468.95" y="54.3" width="2.3" height="34.0" fill="#0fbd6c" stroke="#1f6e47" stroke-width="0.55"/>
<line x1="473.00" x2="473.00" y1="49.0" y2="102.3" stroke="#5a846d" stroke-width="1"/>
<rect x="471.85" y="54.3" width="2.3" height="36.7" fill="#ff5a4e" stroke="#7d3a30" stroke-width="0.55"/>
<line x1="475.90" x2="475.90" y1="87.7" y2="93.0" stroke="#5a846d" stroke-width="1"/>
<rect x="474.75" y="91.0" width="2.3" height="1.3" fill="#ff5a4e" stroke="#7d3a30" stroke-width="0.55"/>
<line x1="478.80" x2="478.80" y1="87.0" y2="97.7" stroke="#5a846d" stroke-width="1"/>
<rect x="477.65" y="92.3" width="2.3" height="1.7" fill="#ff5a4e" stroke="#7d3a30" stroke-width="0.55"/>
<line x1="481.70" x2="481.70" y1="90.3" y2="110.3" stroke="#5a846d" stroke-width="1"/>
<rect x="480.55" y="94.0" width="2.3" height="2.7" fill="#ff5a4e" stroke="#7d3a30" stroke-width="0.55"/>
<line x1="484.60" x2="484.60" y1="93.3" y2="113.7" stroke="#5a846d" stroke-width="1"/>
<rect x="483.45" y="96.7" width="2.3" height="9.0" fill="#ff5a4e" stroke="#7d3a30" stroke-width="0.55"/>
<line x1="487.50" x2="487.50" y1="95.7" y2="107.0" stroke="#5a846d" stroke-width="1"/>
<rect x="486.35" y="104.3" width="2.3" height="1.4" fill="#0fbd6c" stroke="#1f6e47" stroke-width="0.55"/>
<line x1="490.40" x2="490.40" y1="87.7" y2="113.7" stroke="#5a846d" stroke-width="1"/>
<rect x="489.25" y="104.3" width="2.3" height="2.7" fill="#ff5a4e" stroke="#7d3a30" stroke-width="0.55"/>
<line x1="493.30" x2="493.30" y1="99.0" y2="109.0" stroke="#5a846d" stroke-width="1"/>
<rect x="492.15" y="104.3" width="2.3" height="2.7" fill="#0fbd6c" stroke="#1f6e47" stroke-width="0.55"/>
<line x1="496.20" x2="496.20" y1="101.5" y2="112.0" stroke="#5a846d" stroke-width="1"/>
<rect x="495.05" y="104.3" width="2.3" height="3.5" fill="#ff5a4e" stroke="#7d3a30" stroke-width="0.55"/>
<line x1="499.10" x2="499.10" y1="90.0" y2="109.7" stroke="#5a846d" stroke-width="1"/>
<rect x="497.95" y="98.0" width="2.3" height="9.8" fill="#0fbd6c" stroke="#1f6e47" stroke-width="0.55"/>
<line x1="502.00" x2="502.00" y1="98.0" y2="135.3" stroke="#5a846d" stroke-width="1"/>
<rect x="500.85" y="98.0" width="2.3" height="28.5" fill="#ff5a4e" stroke="#7d3a30" stroke-width="0.55"/>
<line x1="504.90" x2="504.90" y1="121.2" y2="129.5" stroke="#5a846d" stroke-width="1"/>
<rect x="503.75" y="125.0" width="2.3" height="1.4" fill="#0fbd6c" stroke="#1f6e47" stroke-width="0.55"/>
<line x1="507.80" x2="507.80" y1="110.2" y2="128.5" stroke="#5a846d" stroke-width="1"/>
<rect x="506.65" y="121.3" width="2.3" height="3.9" fill="#0fbd6c" stroke="#1f6e47" stroke-width="0.55"/>
<line x1="510.70" x2="510.70" y1="114.6" y2="129.5" stroke="#5a846d" stroke-width="1"/>
<rect x="509.55" y="121.3" width="2.3" height="4.4" fill="#ff5a4e" stroke="#7d3a30" stroke-width="0.55"/>
<line x1="513.60" x2="513.60" y1="115.5" y2="128.0" stroke="#5a846d" stroke-width="1"/>
<rect x="512.45" y="122.0" width="2.3" height="3.7" fill="#0fbd6c" stroke="#1f6e47" stroke-width="0.55"/>
<line x1="516.50" x2="516.50" y1="119.6" y2="123.0" stroke="#5a846d" stroke-width="1"/>
<rect x="515.35" y="120.4" width="2.3" height="1.6" fill="#0fbd6c" stroke="#1f6e47" stroke-width="0.55"/>
<line x1="519.40" x2="519.40" y1="118.0" y2="129.3" stroke="#5a846d" stroke-width="1"/>
<rect x="518.25" y="120.7" width="2.3" height="2.7" fill="#ff5a4e" stroke="#7d3a30" stroke-width="0.55"/>
<line x1="522.30" x2="522.30" y1="115.3" y2="128.0" stroke="#5a846d" stroke-width="1"/>
<rect x="521.15" y="123.4" width="2.3" height="2.2" fill="#ff5a4e" stroke="#7d3a30" stroke-width="0.55"/>
<line x1="525.20" x2="525.20" y1="110.0" y2="144.0" stroke="#5a846d" stroke-width="1"/>
<rect x="524.05" y="110.0" width="2.3" height="15.6" fill="#0fbd6c" stroke="#1f6e47" stroke-width="0.55"/>
<line x1="528.10" x2="528.10" y1="100.0" y2="134.0" stroke="#5a846d" stroke-width="1"/>
<rect x="526.95" y="110.0" width="2.3" height="17.3" fill="#ff5a4e" stroke="#7d3a30" stroke-width="0.55"/>
<line x1="531.00" x2="531.00" y1="119.3" y2="132.7" stroke="#5a846d" stroke-width="1"/>
<line x1="529.60" x2="532.40" y1="127.3" y2="127.3" stroke="#7d3a30" stroke-width="0.9"/>
<line x1="533.90" x2="533.90" y1="122.7" y2="137.7" stroke="#5a846d" stroke-width="1"/>
<rect x="532.75" y="127.3" width="2.3" height="2.2" fill="#ff5a4e" stroke="#7d3a30" stroke-width="0.55"/>
<line x1="536.80" x2="536.80" y1="129.4" y2="133.3" stroke="#5a846d" stroke-width="1"/>
<rect x="535.65" y="129.4" width="2.3" height="2.2" fill="#ff5a4e" stroke="#7d3a30" stroke-width="0.55"/>
<line x1="539.70" x2="539.70" y1="127.3" y2="132.7" stroke="#5a846d" stroke-width="1"/>
<rect x="538.55" y="130.7" width="2.3" height="0.9" fill="#0fbd6c" stroke="#1f6e47" stroke-width="0.55"/>
<line x1="542.60" x2="542.60" y1="124.7" y2="142.0" stroke="#5a846d" stroke-width="1"/>
<rect x="541.45" y="126.3" width="2.3" height="4.4" fill="#0fbd6c" stroke="#1f6e47" stroke-width="0.55"/>
<line x1="545.50" x2="545.50" y1="94.3" y2="127.3" stroke="#5a846d" stroke-width="1"/>
<rect x="544.35" y="108.4" width="2.3" height="17.9" fill="#0fbd6c" stroke="#1f6e47" stroke-width="0.55"/>
<line x1="548.40" x2="548.40" y1="105.3" y2="111.3" stroke="#5a846d" stroke-width="1"/>
<rect x="547.25" y="108.4" width="2.3" height="1.9" fill="#ff5a4e" stroke="#7d3a30" stroke-width="0.55"/>
<line x1="4" x2="568" y1="110.2" y2="110.2" stroke="#8ea4f3" stroke-width="0.65" stroke-dasharray="1.8 1.0"/>
</g>
<line x1="4" x2="568" y1="44" y2="44" stroke="#ff5252" stroke-width="1.7"/>
<line x1="568.5" x2="568.5" y1="29" y2="437.6" stroke="#6a6a6a" stroke-width="0.9"/>
<line x1="4" x2="569" y1="437.3" y2="437.3" stroke="#777" stroke-width="0.8"/>
<line x1="569" x2="571" y1="434.7" y2="434.7" stroke="#777" stroke-width="0.7"/>
<text x="572.1" y="437.3" font-size="7.3" fill="#555" textLength="22" lengthAdjust="spacingAndGlyphs">19500.0</text>
<line x1="569" x2="571" y1="418.8" y2="418.8" stroke="#777" stroke-width="0.7"/>
<text x="572.1" y="421.4" font-size="7.3" fill="#555" textLength="22" lengthAdjust="spacingAndGlyphs">20000.0</text>
<line x1="569" x2="571" y1="402.9" y2="402.9" stroke="#777" stroke-width="0.7"/>
<text x="572.1" y="405.6" font-size="7.3" fill="#555" textLength="22" lengthAdjust="spacingAndGlyphs">20500.0</text>
<line x1="569" x2="571" y1="387.1" y2="387.1" stroke="#777" stroke-width="0.7"/>
<text x="572.1" y="389.7" font-size="7.3" fill="#555" textLength="22" lengthAdjust="spacingAndGlyphs">21000.0</text>
<line x1="569" x2="571" y1="371.2" y2="371.2" stroke="#777" stroke-width="0.7"/>
<text x="572.1" y="373.9" font-size="7.3" fill="#555" textLength="22" lengthAdjust="spacingAndGlyphs">21500.0</text>
<line x1="569" x2="571" y1="355.4" y2="355.4" stroke="#777" stroke-width="0.7"/>
<text x="572.1" y="358.0" font-size="7.3" fill="#555" textLength="22" lengthAdjust="spacingAndGlyphs">22000.0</text>
<line x1="569" x2="571" y1="339.6" y2="339.6" stroke="#777" stroke-width="0.7"/>
<text x="572.1" y="342.2" font-size="7.3" fill="#555" textLength="22" lengthAdjust="spacingAndGlyphs">22500.0</text>
<line x1="569" x2="571" y1="323.7" y2="323.7" stroke="#777" stroke-width="0.7"/>
<text x="572.1" y="326.3" font-size="7.3" fill="#555" textLength="22" lengthAdjust="spacingAndGlyphs">23000.0</text>
<line x1="569" x2="571" y1="307.9" y2="307.9" stroke="#777" stroke-width="0.7"/>
<text x="572.1" y="310.5" font-size="7.3" fill="#555" textLength="22" lengthAdjust="spacingAndGlyphs">23500.0</text>
<line x1="569" x2="571" y1="292.0" y2="292.0" stroke="#777" stroke-width="0.7"/>
<text x="572.1" y="294.6" font-size="7.3" fill="#555" textLength="22" lengthAdjust="spacingAndGlyphs">24000.0</text>
<line x1="569" x2="571" y1="276.1" y2="276.1" stroke="#777" stroke-width="0.7"/>
<text x="572.1" y="278.8" font-size="7.3" fill="#555" textLength="22" lengthAdjust="spacingAndGlyphs">24500.0</text>
<line x1="569" x2="571" y1="260.3" y2="260.3" stroke="#777" stroke-width="0.7"/>
<text x="572.1" y="262.9" font-size="7.3" fill="#555" textLength="22" lengthAdjust="spacingAndGlyphs">25000.0</text>
<line x1="569" x2="571" y1="244.5" y2="244.5" stroke="#777" stroke-width="0.7"/>
<text x="572.1" y="247.1" font-size="7.3" fill="#555" textLength="22" lengthAdjust="spacingAndGlyphs">25500.0</text>
<line x1="569" x2="571" y1="228.6" y2="228.6" stroke="#777" stroke-width="0.7"/>
<text x="572.1" y="231.2" font-size="7.3" fill="#555" textLength="22" lengthAdjust="spacingAndGlyphs">26000.0</text>
<line x1="569" x2="571" y1="212.8" y2="212.8" stroke="#777" stroke-width="0.7"/>
<text x="572.1" y="215.4" font-size="7.3" fill="#555" textLength="22" lengthAdjust="spacingAndGlyphs">26500.0</text>
<line x1="569" x2="571" y1="196.9" y2="196.9" stroke="#777" stroke-width="0.7"/>
<text x="572.1" y="199.5" font-size="7.3" fill="#555" textLength="22" lengthAdjust="spacingAndGlyphs">27000.0</text>
<line x1="569" x2="571" y1="181.1" y2="181.1" stroke="#777" stroke-width="0.7"/>
<text x="572.1" y="183.7" font-size="7.3" fill="#555" textLength="22" lengthAdjust="spacingAndGlyphs">27500.0</text>
<line x1="569" x2="571" y1="165.2" y2="165.2" stroke="#777" stroke-width="0.7"/>
<text x="572.1" y="167.8" font-size="7.3" fill="#555" textLength="22" lengthAdjust="spacingAndGlyphs">28000.0</text>
<line x1="569" x2="571" y1="149.4" y2="149.4" stroke="#777" stroke-width="0.7"/>
<text x="572.1" y="152.0" font-size="7.3" fill="#555" textLength="22" lengthAdjust="spacingAndGlyphs">28500.0</text>
<line x1="569" x2="571" y1="133.5" y2="133.5" stroke="#777" stroke-width="0.7"/>
<text x="572.1" y="136.1" font-size="7.3" fill="#555" textLength="22" lengthAdjust="spacingAndGlyphs">29000.0</text>
<line x1="569" x2="571" y1="117.7" y2="117.7" stroke="#777" stroke-width="0.7"/>
<text x="572.1" y="120.3" font-size="7.3" fill="#555" textLength="22" lengthAdjust="spacingAndGlyphs">29500.0</text>
<line x1="569" x2="571" y1="101.8" y2="101.8" stroke="#777" stroke-width="0.7"/>
<text x="572.1" y="104.4" font-size="7.3" fill="#555" textLength="22" lengthAdjust="spacingAndGlyphs">30000.0</text>
<line x1="569" x2="571" y1="86.0" y2="86.0" stroke="#777" stroke-width="0.7"/>
<text x="572.1" y="88.6" font-size="7.3" fill="#555" textLength="22" lengthAdjust="spacingAndGlyphs">30500.0</text>
<line x1="569" x2="571" y1="70.1" y2="70.1" stroke="#777" stroke-width="0.7"/>
<text x="572.1" y="72.7" font-size="7.3" fill="#555" textLength="22" lengthAdjust="spacingAndGlyphs">31000.0</text>
<line x1="569" x2="571" y1="54.2" y2="54.2" stroke="#777" stroke-width="0.7"/>
<text x="572.1" y="56.9" font-size="7.3" fill="#555" textLength="22" lengthAdjust="spacingAndGlyphs">31500.0</text>
<line x1="569" x2="571" y1="38.4" y2="38.4" stroke="#777" stroke-width="0.7"/>
<text x="572.1" y="41.0" font-size="7.3" fill="#555" textLength="22" lengthAdjust="spacingAndGlyphs">32000.0</text>
<rect x="568" y="40.2" width="28.3" height="8.5" fill="#ff0000"/>
<line x1="569" x2="571" y1="44.4" y2="44.4" stroke="#fff" stroke-width="0.7" opacity="0.45"/>
<text x="572" y="47.0" font-size="7.2" font-weight="bold" fill="#fff" textLength="22.6" lengthAdjust="spacingAndGlyphs">31837.8</text>
<rect x="568" y="106.2" width="28.3" height="8.5" fill="#4169e1"/>
<line x1="569" x2="571" y1="110.4" y2="110.4" stroke="#fff" stroke-width="0.7" opacity="0.45"/>
<text x="572" y="113.0" font-size="7.2" font-weight="bold" fill="#fff" textLength="22.6" lengthAdjust="spacingAndGlyphs">29742.0</text>
<rect x="568" y="140.5" width="28.3" height="8.5" fill="#90c876"/>
<line x1="569" x2="571" y1="144.7" y2="144.7" stroke="#1a1a1a" stroke-width="0.7" opacity="0.45"/>
<text x="572" y="147.3" font-size="7.2" fill="#1a1a1a" stroke="#1a1a1a" stroke-width="0.28" textLength="22.4" lengthAdjust="spacingAndGlyphs">28654.8</text>
<rect x="568" y="260.9" width="28.3" height="8.5" fill="#90c876"/>
<line x1="569" x2="571" y1="265.1" y2="265.1" stroke="#1a1a1a" stroke-width="0.7" opacity="0.45"/>
<text x="572" y="267.7" font-size="7.2" fill="#1a1a1a" stroke="#1a1a1a" stroke-width="0.28" textLength="22.4" lengthAdjust="spacingAndGlyphs">24843.1</text>
<rect x="568" y="149.6" width="28.3" height="8.5" fill="#0000ff"/>
<line x1="569" x2="571" y1="153.8" y2="153.8" stroke="#fff" stroke-width="0.7" opacity="0.45"/>
<text x="572" y="156.4" font-size="7.2" font-weight="bold" fill="#fff" textLength="22.6" lengthAdjust="spacingAndGlyphs">28549.4</text>
<rect x="568" y="191.6" width="28.3" height="8.5" fill="#ff00ff"/>
<line x1="569" x2="571" y1="195.8" y2="195.8" stroke="#fff" stroke-width="0.7" opacity="0.45"/>
<text x="572" y="198.4" font-size="7.2" font-weight="bold" fill="#fff" textLength="22.6" lengthAdjust="spacingAndGlyphs">27042.2</text>
<line x1="82.2" x2="82.2" y1="437.3" y2="439.3" stroke="#666" stroke-width="0.7"/>
<text x="75.2" y="445.4" font-size="7" font-weight="bold" fill="#484848" textLength="14" lengthAdjust="spacingAndGlyphs">Mars</text>
<line x1="172" x2="172" y1="437.3" y2="439.3" stroke="#666" stroke-width="0.7"/>
<text x="167.0" y="445.4" font-size="7" font-weight="bold" fill="#484848" textLength="10" lengthAdjust="spacingAndGlyphs">Avr</text>
<line x1="258.6" x2="258.6" y1="437.3" y2="439.3" stroke="#666" stroke-width="0.7"/>
<text x="253.6" y="445.4" font-size="7" font-weight="bold" fill="#484848" textLength="10" lengthAdjust="spacingAndGlyphs">Mai</text>
<line x1="348.8" x2="348.8" y1="437.3" y2="439.3" stroke="#666" stroke-width="0.7"/>
<text x="342.5" y="445.4" font-size="7" font-weight="bold" fill="#484848" textLength="12.6" lengthAdjust="spacingAndGlyphs">Juin</text>
<line x1="436" x2="436" y1="437.3" y2="439.3" stroke="#666" stroke-width="0.7"/>
<text x="430.0" y="445.4" font-size="7" font-weight="bold" fill="#484848" textLength="12" lengthAdjust="spacingAndGlyphs">Juill</text>
<line x1="526" x2="526" y1="437.3" y2="439.3" stroke="#666" stroke-width="0.7"/>
<text x="519.0" y="445.4" font-size="7" font-weight="bold" fill="#484848" textLength="14" lengthAdjust="spacingAndGlyphs">Août</text>
<line x1="125.6" x2="125.6" y1="437.3" y2="439" stroke="#888" stroke-width="0.7"/>
<line x1="215.7" x2="215.7" y1="437.3" y2="439" stroke="#888" stroke-width="0.7"/>
<line x1="302.3" x2="302.3" y1="437.3" y2="439" stroke="#888" stroke-width="0.7"/>
<line x1="392.4" x2="392.4" y1="437.3" y2="439" stroke="#888" stroke-width="0.7"/>
<line x1="479.4" x2="479.4" y1="437.3" y2="439" stroke="#888" stroke-width="0.7"/>
<text x="122.5" y="445.4" font-size="7" fill="#6a6a6a" textLength="6.2" lengthAdjust="spacingAndGlyphs">16</text>
<text x="8.3" y="10.9" font-size="7" fill="#222" textLength="244.4" lengthAdjust="spacingAndGlyphs">Published on Investing.com, 9/Aug/2023 - 6:12:09 GMT, Powered by TradingView.</text>
<text x="8.3" y="22.7" font-size="7" font-weight="bold" fill="#111" textLength="97.7" lengthAdjust="spacingAndGlyphs">BTC/USD, Bitfinex:BTC/USD, D</text>
<text x="9" y="39.2" font-size="7" fill="#2a2a2a" textLength="54" lengthAdjust="spacingAndGlyphs">MA (100, close, 0)</text>
<text x="9" y="46.2" font-size="7" fill="#2a2a2a" textLength="54" lengthAdjust="spacingAndGlyphs">MA (200, close, 0)</text>
<text x="11.2" y="427.4" font-size="10.6" font-weight="bold" fill="#111" stroke="#111" stroke-width="0.25" textLength="49.6" lengthAdjust="spacingAndGlyphs">Investing</text>
<text x="60.6" y="427.5" font-size="8.4" fill="#666" textLength="17.8" lengthAdjust="spacingAndGlyphs">.com</text>
<circle cx="45.9" cy="419.1" r="1.1" fill="#f7941d"/>
</svg>
</body></html>
